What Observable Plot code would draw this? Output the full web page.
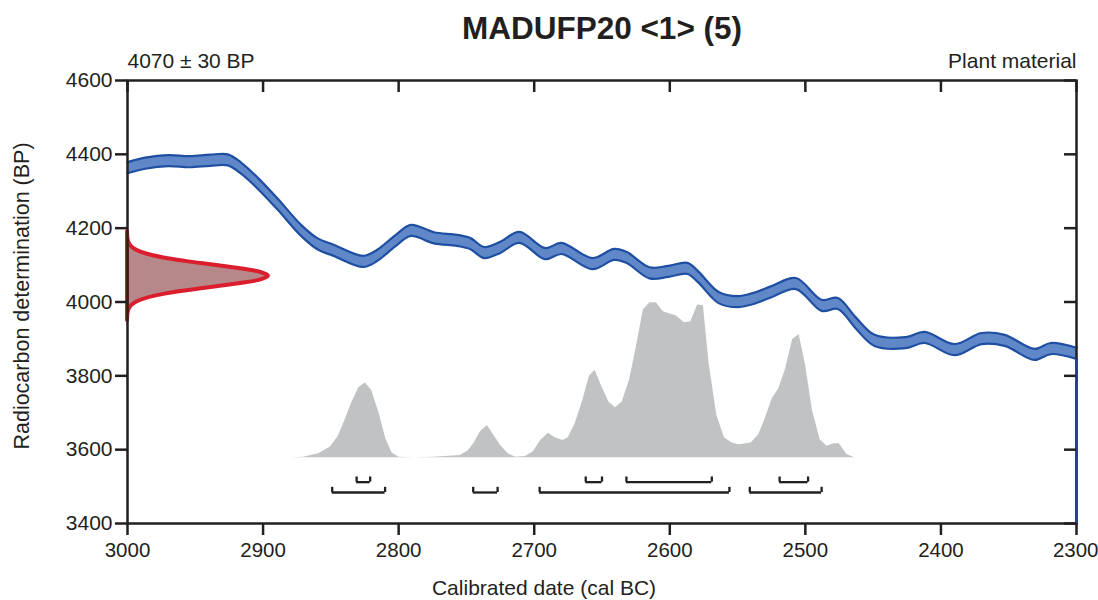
<!DOCTYPE html>
<html><head><meta charset="utf-8">
<script src="https://cdn.jsdelivr.net/npm/d3@7"></script>
<script src="https://cdn.jsdelivr.net/npm/@observablehq/plot@0.6"></script>
<style>body{margin:0;background:#fff}</style>
</head><body><div id="chart"></div>
<script>
const title = "MADUFP20 <1> (5)";
const determination = "4070 ± 30 BP";
const material = "Plant material";
const xLabel = "Calibrated date (cal BC)";
const yLabel = "Radiocarbon determination (BP)";
const xTicks = [3000, 2900, 2800, 2700, 2600, 2500, 2400, 2300];
const yTicks = [3400, 3600, 3800, 4000, 4200, 4400, 4600];

// calibration curve (centre line) and its half width
const curveYears = [3000,2987,2970,2954,2939,2926,2916,2904,2889,2872,2860,2848,2826,2816,2802,2791,2774,2757,2747,2737,2725,2711,2692,2680,2657,2641,2632,2615,2601,2587,2579,2564,2550,2539,2525,2507,2488,2476,2463,2449,2426,2412,2390,2370,2353,2331,2319,2300];
const curveBP = [4364,4376,4383,4380,4384,4385,4362,4322,4264,4194,4158,4140,4110,4126,4167,4194,4174,4167,4158,4134,4148,4175,4131,4145,4104,4129,4121,4079,4083,4091,4068,4012,4001,4009,4028,4050,3991,3996,3944,3896,3890,3904,3871,3901,3896,3858,3874,3861];
const curveHalfWidth = 15;

// radiocarbon measurement distribution (on the BP axis)
const r14Mean = 4070;
const r14Offsets = [-120,-110,-100,-90,-80,-70,-60,-50,-40,-30,-20,-10,0,10,20,30,40,50,60,70,80,90,100,110,120];
const r14Density = [0.0003,0.0012,0.0039,0.011,0.0286,0.066,0.135,0.249,0.411,0.607,0.801,0.946,1,0.946,0.801,0.607,0.411,0.249,0.135,0.066,0.0286,0.011,0.0039,0.0012,0.0003];
const r14Span = 104; // years at peak

// calibrated (posterior) distribution
const postYears = [2878.7,2870.2,2858.9,2850.4,2844.8,2840.6,2834.9,2829.3,2824.5,2819.9,2814.3,2809.5,2804.7,2799.6,2788.3,2774.2,2754.5,2748.8,2744.6,2739.8,2734.7,2730.5,2724.8,2719.2,2713.5,2706.5,2700.8,2695.2,2689.5,2684.5,2678.8,2674.9,2669.8,2664.1,2659.3,2655.1,2650.0,2644.9,2640.1,2635.1,2629.7,2624.6,2619.5,2614.7,2609.9,2604.8,2595.0,2589.3,2584.5,2579.4,2575.2,2571.0,2565.3,2559.7,2554.0,2549.0,2539.9,2534.3,2530.1,2524.4,2519.6,2514.5,2509.4,2504.6,2499.8,2494.8,2489.1,2484.0,2479.2,2475.0,2469.3,2463.7];
const postDensity = [0,0.004,0.026,0.069,0.134,0.22,0.349,0.453,0.483,0.435,0.284,0.123,0.03,0.004,0,0.004,0.015,0.043,0.091,0.166,0.209,0.155,0.08,0.026,0.004,0.009,0.037,0.112,0.159,0.129,0.112,0.129,0.22,0.371,0.526,0.565,0.457,0.36,0.323,0.36,0.5,0.716,0.953,1,1,0.942,0.914,0.871,0.877,0.985,0.981,0.608,0.274,0.129,0.095,0.084,0.095,0.151,0.241,0.381,0.446,0.575,0.763,0.795,0.597,0.306,0.116,0.075,0.091,0.091,0.022,0];
const postBase = 3578;
const postScale = 420;

// highest probability ranges
const range68 = [[2831,2821],[2662,2650],[2632,2569],[2519,2498]];
const range95 = [[2849,2810],[2745,2727],[2696,2556],[2541,2488]];
const range68Y = 3512, range95Y = 3484, bracketTick = 14;

const curve = curveYears.map((x, i) => ({x, bp: curveBP[i]}));
const r14 = r14Offsets.map((o, i) => ({bp: r14Mean + o, d: r14Density[i]}));
const post = postYears.map((x, i) => ({x, d: postDensity[i]}));
const brackets = [
  ...range68.map(([a, b]) => ({a, b, y: range68Y})),
  ...range95.map(([a, b]) => ({a, b, y: range95Y}))
];
const ink = "#231f20";

const chart = Plot.plot({
  width: 1098, height: 600,
  marginLeft: 127, marginRight: 22, marginTop: 80, marginBottom: 77,
  style: {fontFamily: "'Liberation Sans', Arial, sans-serif", fontSize: "21px", color: ink, background: "white"},
  x: {domain: [3000, 2300]},
  y: {domain: [3400, 4600]},
  marks: [
    Plot.areaY(post, {x: "x", y1: postBase, y2: d => postBase + d.d * postScale, fill: "#c1c2c4"}),
    Plot.ruleY(brackets, {y: "y", x1: "a", x2: "b", stroke: ink, strokeWidth: 2.3}),
    Plot.ruleX(brackets, {x: "a", y1: "y", y2: d => d.y + bracketTick, stroke: ink, strokeWidth: 2.3}),
    Plot.ruleX(brackets, {x: "b", y1: "y", y2: d => d.y + bracketTick, stroke: ink, strokeWidth: 2.3}),
    Plot.areaY(curve, {x: "x", y1: d => d.bp - curveHalfWidth, y2: d => d.bp + curveHalfWidth, fill: "#6088c8", curve: "catmull-rom"}),
    Plot.lineY(curve, {x: "x", y: d => d.bp - curveHalfWidth, stroke: "#1f4fa3", strokeWidth: 2.2, curve: "catmull-rom"}),
    Plot.lineY(curve, {x: "x", y: d => d.bp + curveHalfWidth, stroke: "#1f4fa3", strokeWidth: 2.2, curve: "catmull-rom"}),
    Plot.areaX(r14, {y: "bp", x1: 3000, x2: d => 3000 - d.d * r14Span, fill: "#b78889", stroke: "#da1e2d", strokeWidth: 4, strokeLinejoin: "round", curve: "catmull-rom"}),
    Plot.frame({stroke: ink, strokeWidth: 2.5}),
    Plot.ruleX([curveYears[curveYears.length - 1]], {y1: 3400, y2: curveBP[curveBP.length - 1] - curveHalfWidth, stroke: "#1f3f8f", strokeWidth: 2.5}),
    Plot.axisX(xTicks, {anchor: "bottom", tickSize: 12, tickPadding: 7, tickFormat: "d", label: null, stroke: ink, strokeWidth: 2.5, fill: ink, fontSize: 20.5}),
    Plot.axisX([2300], {anchor: "bottom", tickSize: 0, tickPadding: 19, tickFormat: () => "", label: null}),
    Plot.axisY(yTicks, {anchor: "left", tickSize: 12, tickPadding: 3, tickFormat: "d", label: null, stroke: ink, strokeWidth: 2.5, fill: ink}),
    Plot.ruleX(xTicks, {x: d => d, insetBottom: 431, stroke: ink, strokeWidth: 2.5}),
    Plot.ruleY(yTicks, {y: d => d, insetLeft: 937, stroke: ink, strokeWidth: 2.5}),
    Plot.text([title], {frameAnchor: "top", lineAnchor: "middle", dy: -52, fontSize: 31.5, fontWeight: "bold", fill: ink}),
    Plot.text([determination], {frameAnchor: "top-left", textAnchor: "start", lineAnchor: "middle", dy: -19, fontSize: 21, fill: ink}),
    Plot.text([material], {frameAnchor: "top-right", textAnchor: "end", lineAnchor: "middle", dy: -19, fontSize: 21, fill: ink}),
    Plot.text([xLabel], {frameAnchor: "bottom", textAnchor: "middle", lineAnchor: "middle", dy: 65, dx: -58, fontSize: 21, fill: ink}),
    Plot.text([yLabel], {frameAnchor: "left", textAnchor: "middle", lineAnchor: "middle", rotate: -90, dx: -105, dy: -6, fontSize: 21.5, fill: ink})
  ]
});
// keep the last x tick label inside the picture
const labels = chart.querySelectorAll("g[aria-label='x-axis tick label'] text");
labels.forEach(t => { if (t.textContent === "2300") t.setAttribute("text-anchor", "end"), t.setAttribute("dx", "22"); });
document.getElementById("chart").append(chart);
</script>
</body></html>
